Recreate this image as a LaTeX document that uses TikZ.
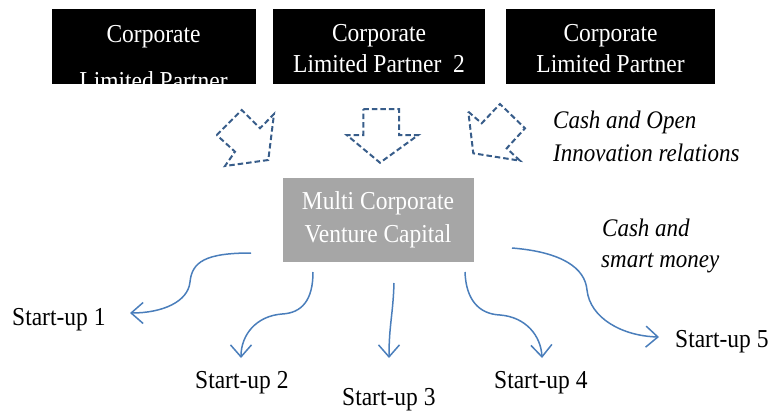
\documentclass[tikz,border=0pt]{standalone}
\usepackage{fontspec}
\setmainfont{Liberation Serif}
\usetikzlibrary{arrows.meta}
\definecolor{blockblue}{RGB}{56,93,138}
\definecolor{curveblue}{RGB}{74,126,187}
\definecolor{mcvcgray}{RGB}{166,166,166}
\newcommand{\tallt}[1]{\scalebox{1}[1.1]{#1}}
\begin{document}
\begin{tikzpicture}[x=1pt,y=-1pt,
  lpbox/.style={fill=black,draw=none,minimum width=#1,minimum height=75pt,inner sep=0pt},
  wtext/.style={text=white,font=\fontsize{23.5}{31}\selectfont,inner sep=0pt,anchor=base},
  btext/.style={text=black,font=\fontsize{23.5}{31}\selectfont,inner sep=0pt,anchor=base west},
  itext/.style={text=black,font=\fontsize{23}{31}\selectfont\itshape,inner sep=0pt,anchor=base west},
  blockarrow/.style={draw=blockblue,line width=2pt,dash pattern=on 5.5pt off 3pt,line join=miter},
  flow/.style={draw=curveblue,line width=1.5pt,-{Straight Barb[length=12pt,width=21pt,line width=1.5pt]}}]
\useasboundingbox (0,0) rectangle (771,412);
% corporate boxes
\node[lpbox=204pt] (lp1) at (153.5,46.5) {};
\node[lpbox=212pt] (lp2) at (379,46.5) {};
\node[lpbox=209pt] (lp3) at (610.5,46.5) {};
\node[wtext] (lp1a) at (153.5,43) {\tallt{Corporate}};
\begin{scope}
  \clip (51.5,9) rectangle (255.5,84);
  \node[wtext] (lp1b) at (153.5,89.5) {\tallt{Limited Partner}};
\end{scope}
\node[wtext] (lp2a) at (379,42) {\tallt{Corporate}};
\node[wtext] (lp2b) at (379,73) {\tallt{Limited Partner\ \ 2}};
\node[wtext] (lp3a) at (610.5,42) {\tallt{Corporate}};
\node[wtext] (lp3b) at (610.5,73) {\tallt{Limited Partner}};
% dashed block arrows
\draw[blockarrow] (216.7,135) -- (241.7,110) -- (260,128.3) -- (274,114) -- (268.3,160) -- (225,166) -- (235,151.7) -- cycle;
\draw[blockarrow] (363.3,109) -- (399,109) -- (399,135) -- (418.3,135) -- (380,162.7) -- (346.7,135) -- (363.3,135) -- cycle;
\draw[blockarrow] (468.3,111.7) -- (481.7,123.3) -- (500,104) -- (525,128.3) -- (506.7,148.3) -- (520,160.7) -- (473.3,153.3) -- cycle;
% labels
\node[itext] (l1a) at (553,128) {\tallt{Cash and Open}};
\node[itext] (l1b) at (553,161) {\tallt{Innovation relations}};
\node[itext] (l2a) at (602,236) {\tallt{Cash and}};
\node[itext] (l2b) at (601,267) {\tallt{smart money}};
% MCVC box
\node[fill=mcvcgray,minimum width=191pt,minimum height=84pt,inner sep=0pt] (mcvc) at (378,219.5) {};
\node[wtext] (mcvca) at (378,209) {\tallt{Multi Corporate}};
\node[wtext] (mcvcb) at (378,242) {\tallt{Venture Capital}};
% start-ups
\node[btext] (s1) at (12,325) {\tallt{Start-up 1}};
\node[btext] (s2) at (195,388) {\tallt{Start-up 2}};
\node[btext] (s3) at (342,405) {\tallt{Start-up 3}};
\node[btext] (s4) at (494,388) {\tallt{Start-up 4}};
\node[btext] (s5) at (675,347) {\tallt{Start-up 5}};
% connector endpoints
\coordinate (a1) at (251,253); \coordinate (b1) at (130,313);
\coordinate (a2) at (313,272); \coordinate (b2) at (241,358);
\coordinate (a3) at (394,283); \coordinate (b3) at (389,358);
\coordinate (a4) at (465,272); \coordinate (b4) at (542,358);
\coordinate (a5) at (512,248); \coordinate (b5) at (659,337);
\draw[flow] (a1) .. controls (205,253) and (192,262) .. (190,282) .. controls (188,302) and (162,313) .. (b1);
\draw[flow] (a2) .. controls (313,300) and (302,313) .. (282,314) .. controls (256,316) and (241,335) .. (b2);
\draw[flow] (a3) .. controls (393,315) and (389,325) .. (b3);
\draw[flow] (a4) .. controls (466,300) and (479,314) .. (500,315) .. controls (526,317) and (541,336) .. (b4);
\draw[flow] (a5) .. controls (562,252) and (585,268) .. (587,290) .. controls (590,318) and (622,336) .. (b5);
\end{tikzpicture}
\end{document}
